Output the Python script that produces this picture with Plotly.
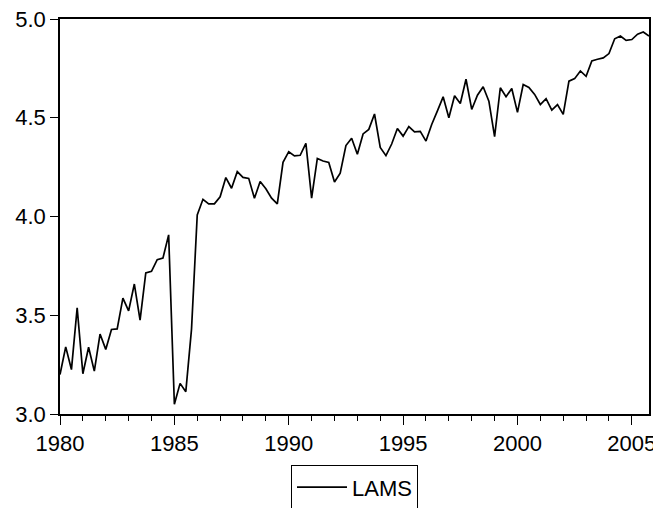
import plotly.graph_objects as go

# Quarterly series LAMS, 1980Q1 - 2005Q4
years = list(range(1980, 2006))
quarters = [0.0, 0.25, 0.5, 0.75]

lams_1980s = [
    3.200, 3.340, 3.225, 3.537,   # 1980
    3.204, 3.338, 3.217, 3.405,   # 1981
    3.327, 3.428, 3.431, 3.587,   # 1982
    3.522, 3.658, 3.475, 3.714,   # 1983
    3.722, 3.781, 3.789, 3.907,   # 1984
    3.049, 3.155, 3.113, 3.430,   # 1985
    4.008, 4.087, 4.064, 4.064,   # 1986
    4.100, 4.197, 4.143, 4.227,   # 1987
    4.198, 4.193, 4.092, 4.177,   # 1988
    4.140, 4.093, 4.064, 4.274,   # 1989
]
lams_1990s = [
    4.328, 4.307, 4.310, 4.370,   # 1990
    4.093, 4.294, 4.281, 4.274,   # 1991
    4.175, 4.219, 4.359, 4.396,   # 1992
    4.315, 4.418, 4.441, 4.519,   # 1993
    4.350, 4.308, 4.367, 4.446,   # 1994
    4.407, 4.455, 4.428, 4.431,   # 1995
    4.382, 4.466, 4.535, 4.606,   # 1996
    4.500, 4.611, 4.572, 4.695,   # 1997
    4.542, 4.614, 4.657, 4.584,   # 1998
    4.404, 4.652, 4.606, 4.648,   # 1999
]
lams_2000s = [
    4.527, 4.668, 4.653, 4.618,   # 2000
    4.567, 4.597, 4.539, 4.567,   # 2001
    4.517, 4.685, 4.698, 4.737,   # 2002
    4.710, 4.788, 4.796, 4.803,   # 2003
    4.825, 4.900, 4.914, 4.892,   # 2004
    4.896, 4.923, 4.934, 4.914,   # 2005
]
lams = lams_1980s + lams_1990s + lams_2000s
dates = [y + q for y in years for q in quarters]

x_tickvals = [1980, 1985, 1990, 1995, 2000, 2005]
x_ticktext = ["1980", "1985", "1990", "1995", "2000", "2005"]
y_tickvals = [3.0, 3.5, 4.0, 4.5, 5.0]

FONT = "Liberation Sans, Arial, Helvetica, sans-serif"

fig = go.Figure()
fig.add_trace(go.Scatter(
    x=dates, y=lams, mode="lines", name="LAMS",
    line=dict(color="black", width=1.7),
))

# The page body has an 8px default margin, so the figure is sized to fit the
# 661x508 window once that offset is taken into account.
fig.update_layout(
    width=653, height=500,
    margin=dict(l=52, r=11.5, t=10.5, b=94, autoexpand=False),
    paper_bgcolor="white", plot_bgcolor="white",
    font=dict(family=FONT, size=22, color="black"),
    showlegend=True,
    legend=dict(
        orientation="h", x=0.5, xanchor="center", y=-0.13, yanchor="top",
        bordercolor="black", borderwidth=1, bgcolor="white",
        font=dict(family=FONT, size=22, color="black"),
        itemwidth=50,
    ),
    xaxis=dict(
        range=[1980, 2005.75], tickmode="array",
        tickvals=x_tickvals, ticktext=x_ticktext, ticklabeloverflow="allow",
        ticks="outside", ticklen=9, tickwidth=1, tickcolor="black",
        minor=dict(dtick=1, tick0=1980, ticks="outside", ticklen=5,
                   tickwidth=1, tickcolor="black", showgrid=False),
        showline=True, linecolor="black", linewidth=1.5, mirror=True,
        showgrid=False, zeroline=False, automargin=False,
    ),
    yaxis=dict(
        range=[3.0, 5.0], tickmode="array", tickvals=y_tickvals,
        tickformat=".1f", ticklabeloverflow="allow",
        ticks="outside", ticklen=8, tickwidth=1, tickcolor="black",
        showline=True, linecolor="black", linewidth=1.5, mirror=True,
        showgrid=False, zeroline=False, automargin=False,
    ),
)

fig.write_html("out.html")
